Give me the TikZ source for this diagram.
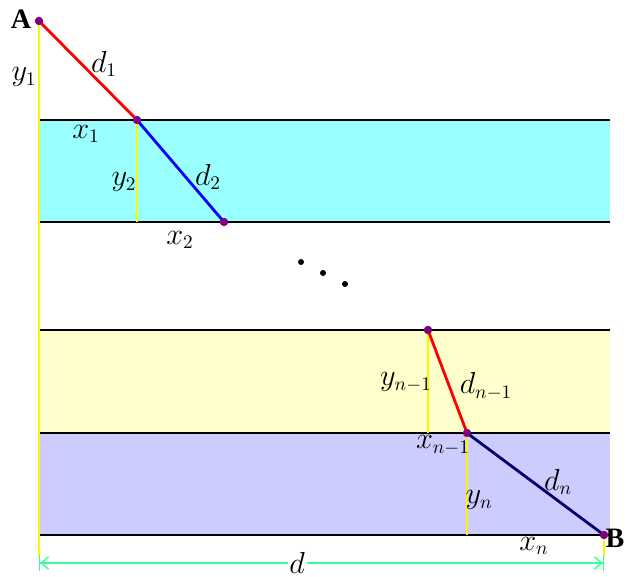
\documentclass[tikz,border=0pt]{standalone}
\usepackage{fontspec}
\setmainfont{Liberation Serif}
\usepackage{tikz}
\usetikzlibrary{arrows.meta}
\definecolor{couche1}{RGB}{153,255,255}
\definecolor{couche2}{RGB}{255,255,204}
\definecolor{couche3}{RGB}{204,204,255}
\definecolor{vertDim}{RGB}{51,255,153}
\definecolor{mauvePt}{RGB}{128,0,128}
\definecolor{jauneProj}{RGB}{255,245,0}

\begin{document}
\begin{tikzpicture}[x=0.02cm,y=-0.02cm,
    iface/.style={draw=black,line width=1.3pt},
    seg/.style={line width=1.6pt},
    proj/.style={draw=jauneProj,line width=0.6pt},
    pt/.style={circle,fill=mauvePt,inner sep=0pt,minimum size=4.6pt},
    etc/.style={circle,fill=black,inner sep=0pt,minimum size=3.4pt},
    lbl/.style={font=\fontsize{16}{18}\selectfont},
    dim/.style={draw=vertDim,line width=0.8pt,
                {Bar[width=9pt]Straight Barb[length=4pt,width=7pt]}-{Straight Barb[length=4pt,width=7pt]Bar[width=9pt]}},
  ]
    \useasboundingbox (0,0) rectangle (627,577);

    % Layers
    \fill[couche1] (39,120) rectangle (610,222);
    \fill[couche2] (39,330) rectangle (610,433);
    \fill[couche3] (39,433) rectangle (610,535);
    \draw[iface] (39,120) -- (610,120);
    \draw[iface] (39,222) -- (610,222);
    \draw[iface] (39,330) -- (610,330);
    \draw[iface] (39,433) -- (610,433);
    \draw[iface] (39,535) -- (610,535);

    % Points
    \node[pt] (A)   at (39,21)   {};
    \node[pt] (P1)  at (137,120) {};
    \node[pt] (P2)  at (224,222) {};
    \node[pt] (Pm)  at (428,330) {};
    \node[pt] (Pn)  at (467,433) {};
    \node[pt] (B)   at (604,535) {};
    \coordinate (dL) at (39,563);
    \coordinate (dR) at (604,563);

    % Projections
    \draw[proj] (A.center) -- (39,556);
    \draw[proj] (P1.center) -- (137,222);
    \draw[proj] (Pm.center) -- (428,433);
    \draw[proj] (Pn.center) -- (467,535);
    \draw[proj] (B.center) -- (604,556);

    % Path
    \draw[seg,red] (A.center) -- (P1.center);
    \draw[seg,blue] (P1.center) -- (P2.center);
    \draw[seg,red] (Pm.center) -- (Pn.center);
    \draw[seg,draw={rgb,255:red,0;green,0;blue,110}] (Pn.center) -- (B.center);
    \node[pt] at (A) {};
    \node[pt] at (P1) {};
    \node[pt] at (P2) {};
    \node[pt] at (Pm) {};
    \node[pt] at (Pn) {};
    \node[pt] at (B) {};

    % Dots
    \node[etc] (e1) at (301,262) {};
    \node[etc] (e2) at (323,273) {};
    \node[etc] (e3) at (345,284) {};

    % Width
    \draw[dim] (dL) -- (dR)
      node[pos=0.457,fill=white,inner sep=1pt,lbl] {$d$};

    % Labels
    \node[lbl,font=\fontsize{16}{18}\selectfont\bfseries] at (21,19) {A};
    \node[lbl,font=\fontsize{16}{18}\selectfont\bfseries,inner sep=0pt] at (615,538) {B};
    \node[lbl] at (104,64)  {$d_1$};
    \node[lbl] at (24,77)   {$y_1$};
    \node[lbl] at (86,134)  {$x_1$};
    \node[lbl] at (124,182) {$y_2$};
    \node[lbl] at (208,177) {$d_2$};
    \node[lbl] at (180,240) {$x_2$};
    \node[lbl] at (406,382) {$y_{n-1}$};
    \node[lbl] at (486,386) {$d_{n-1}$};
    \node[lbl] at (443,445) {$x_{n-1}$};
    \node[lbl] at (479,500) {$y_n$};
    \node[lbl] at (558,482) {$d_n$};
    \node[lbl] at (534,546) {$x_n$};

  \end{tikzpicture}
\end{document}
